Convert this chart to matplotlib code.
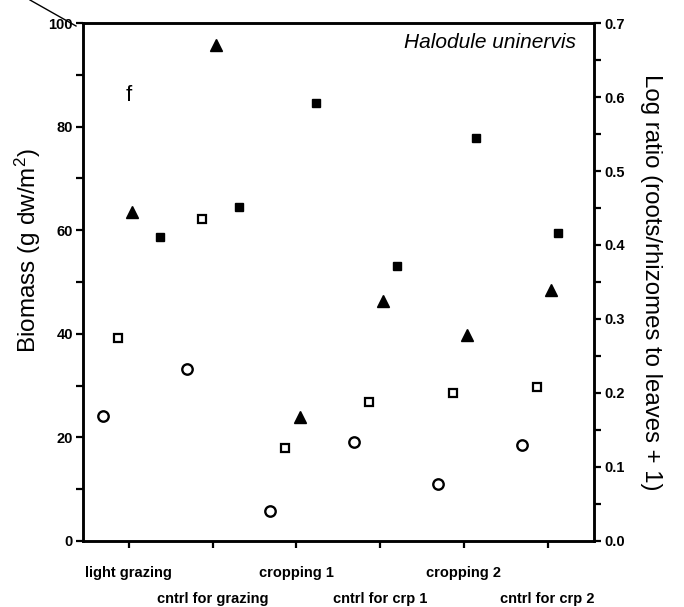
import matplotlib
matplotlib.use("Agg")
import matplotlib.pyplot as plt
from matplotlib.lines import Line2D

plt.rcParams['font.family'] = ['Liberation Sans', 'DejaVu Sans']
plt.rcParams['mathtext.fontset'] = 'custom'
plt.rcParams['mathtext.rm'] = 'Liberation Sans'
plt.rcParams['mathtext.it'] = 'Liberation Sans:italic'

# treatments, in plotting order
categories = ['light grazing', 'cntrl for grazing', 'cropping 1',
              'cntrl for crp 1', 'cropping 2', 'cntrl for crp 2']

# biomass (g dw/m2)
open_circles = [24.1, 33.1, 5.7, 19.0, 11.0, 18.5]
open_squares = [39.1, 62.1, 17.9, 26.8, 28.5, 29.8]
triangles = [63.6, 95.8, 23.9, 46.3, 39.8, 48.5]

# log ratio
filled_squares = [0.411, 0.451, 0.592, 0.371, 0.544, 0.416]

# horizontal placement of each series inside a category
off_circle = -0.31
off_osq = -0.13
off_tri = 0.04
off_fsq = [0.37, 0.32, 0.23, 0.20, 0.14, 0.12]

x = list(range(1, len(categories) + 1))

fig = plt.figure(figsize=(6.84, 6.07), dpi=100)
ax = fig.add_axes([0.121, 0.109, 0.747, 0.853])
ax2 = ax.twinx()

ax.plot([i + off_circle for i in x], open_circles, 'o', ms=7.5, mfc='white',
        mec='black', mew=1.7, ls='none', clip_on=False)
ax.plot([i + off_osq for i in x], open_squares, 's', ms=5.5, mfc='white',
        mec='black', mew=1.6, ls='none', clip_on=False)
ax.plot([i + off_tri for i in x], triangles, '^', ms=8.5, color='black',
        ls='none', clip_on=False)
ax2.plot([i + o for i, o in zip(x, off_fsq)], filled_squares, 's', ms=6,
         color='black', ls='none', clip_on=False)

ax.set_xlim(0.45, 6.55)
ax.set_ylim(0, 100)
ax2.set_ylim(0, 0.7)

ax.set_yticks([0, 20, 40, 60, 80, 100])
ax.set_yticks([10, 30, 50, 70, 90], minor=True)
ax2.set_yticks([0.0, 0.1, 0.2, 0.3, 0.4, 0.5, 0.6, 0.7])
ax2.set_yticklabels(['0.0', '0.1', '0.2', '0.3', '0.4', '0.5', '0.6', '0.7'])
ax2.set_yticks([0.05, 0.15, 0.25, 0.35, 0.45, 0.55, 0.65], minor=True)

ax.set_xticks(x)
ax.set_xticklabels([''] * len(x))
for i, lab in zip(x, categories):
    row = 0 if (i % 2 == 1) else 1
    ax.annotate(lab, xy=(i, 0), xycoords=('data', 'axes fraction'),
                xytext=(0, -23 - row * 19), textcoords='offset points',
                ha='center', va='center', fontsize=10.5, fontweight='bold')

for a in (ax, ax2):
    for s in a.spines.values():
        s.set_linewidth(1.8)
    a.tick_params(which='both', direction='out', length=5, width=1.6,
                  labelsize=10.5)
for t in ax.get_yticklabels() + ax2.get_yticklabels():
    t.set_fontweight('bold')
ax.tick_params(axis='y', pad=2)
ax2.tick_params(axis='y', pad=3)

ax.set_ylabel('Biomass (g dw/m$^2$)', fontsize=17.5, va='center')
ax.yaxis.set_label_coords(-0.108, 0.56)
ax2.set_ylabel('Log ratio (roots/rhizomes to leaves + 1)', fontsize=17.3,
               rotation=270, va='center')
ax2.yaxis.set_label_coords(1.113, 0.5)

ax.text(1.0, 86, 'f', fontsize=16, ha='center', va='center')
ax.text(0.965, 0.962, 'Halodule uninervis', transform=ax.transAxes,
        fontsize=15, style='italic', ha='right', va='center')

# pointer line leaving the top-left corner
fig.add_artist(Line2D([30 / 684, 76 / 684], [1.0, 1 - 26 / 607],
                      transform=fig.transFigure, color='black', lw=1.0))

fig.savefig('out.png', dpi=100)
